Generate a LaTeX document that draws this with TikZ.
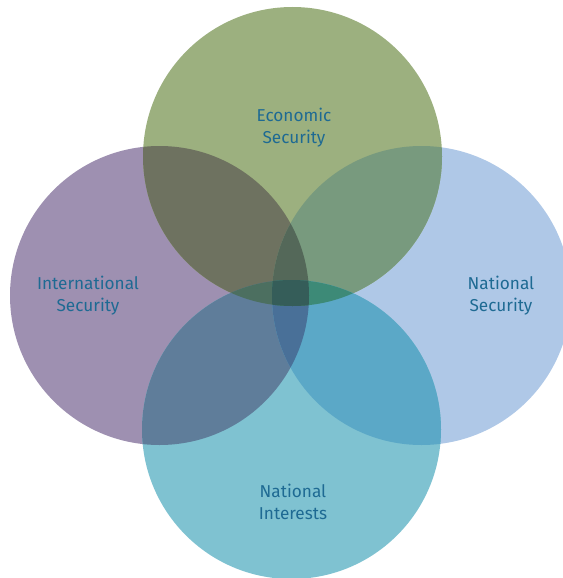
\documentclass[tikz,border=0pt]{standalone}
\usepackage{fontspec}
\setmainfont{Fira Sans}

\definecolor{ecogreen}{HTML}{9CB07F}
\definecolor{intlpurple}{HTML}{9E90B1}
\definecolor{natblue}{HTML}{AFC8E7}
\definecolor{intteal}{HTML}{7FC2D1}
\definecolor{ecointl}{HTML}{6E7260}
\definecolor{econat}{HTML}{789A7E}
\definecolor{intlint}{HTML}{5F7D9A}
\definecolor{natint}{HTML}{5BA8C7}
\definecolor{ecointlnat}{HTML}{546859}
\definecolor{intlnatint}{HTML}{497098}
\definecolor{ecointlint}{HTML}{4C6F60}
\definecolor{econatint}{HTML}{3D8A77}
\definecolor{allfour}{HTML}{355D59}
\definecolor{labelblue}{HTML}{1E6A93}

\tikzset{
  label text/.style={text=labelblue, align=center, font=\fontsize{17.2}{22}\selectfont},
}

\begin{document}
\begin{tikzpicture}[x=1pt,y=-1pt]
	\useasboundingbox (0,0) rectangle (562,578);
	\coordinate (eco) at (292.5,156.5);
	\coordinate (intl) at (159.5,295.5);
	\coordinate (nat) at (421.5,295.5);
	\coordinate (int) at (291.5,429.5);
	\def\rad{149.5pt}

	% the four circles
	\fill[intlpurple] (intl) circle[radius=\rad];
	\fill[natblue] (nat) circle[radius=\rad];
	\fill[ecogreen] (eco) circle[radius=\rad];
	\fill[intteal] (int) circle[radius=\rad];

	% two at a time
	\begin{scope}
		\clip (eco) circle[radius=\rad];
		\fill[ecointl] (intl) circle[radius=\rad];
		\fill[econat] (nat) circle[radius=\rad];
	\end{scope}
	\begin{scope}
		\clip (int) circle[radius=\rad];
		\fill[intlint] (intl) circle[radius=\rad];
		\fill[natint] (nat) circle[radius=\rad];
	\end{scope}

	% three at a time
	\begin{scope}
		\clip (intl) circle[radius=\rad];
		\clip (nat) circle[radius=\rad];
		\fill[ecointlnat] (eco) circle[radius=\rad];
		\fill[intlnatint] (int) circle[radius=\rad];
	\end{scope}
	\begin{scope}
		\clip (eco) circle[radius=\rad];
		\clip (int) circle[radius=\rad];
		\fill[ecointlint] (intl) circle[radius=\rad];
		\fill[econatint] (nat) circle[radius=\rad];
	\end{scope}

	% the middle
	\begin{scope}
		\clip (eco) circle[radius=\rad];
		\clip (int) circle[radius=\rad];
		\clip (intl) circle[radius=\rad];
		\fill[allfour] (nat) circle[radius=\rad];
	\end{scope}

	\node[label text] (ecolabel) at (294,128) {Economic\\Security};
	\node[label text] (intllabel) at (88,296) {International\\Security};
	\node[label text] (natlabel) at (501,296) {National\\Security};
	\node[label text] (intlabel) at (293,502) {National\\Interests};
\end{tikzpicture}
\end{document}
